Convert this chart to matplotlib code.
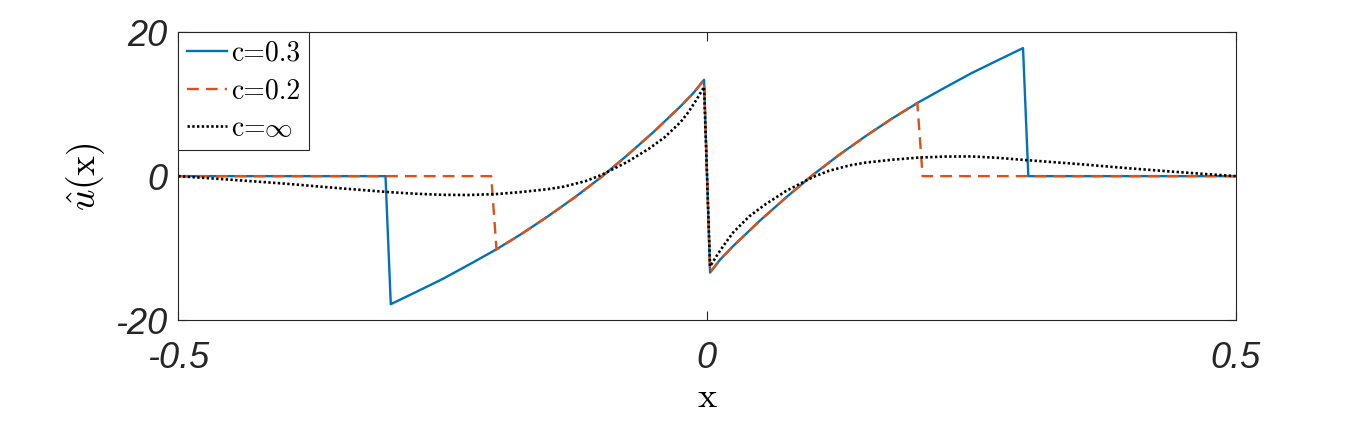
import numpy as np
import matplotlib.pyplot as plt

plt.rcParams['mathtext.fontset'] = 'cm'

# c = 0.3
x_c03 = [-0.5, -0.304, -0.299, -0.275, -0.25, -0.225, -0.2, -0.175, -0.15, -0.125,
         -0.1, -0.075, -0.05, -0.025, -0.0125, -0.0027,
         0.003, 0.0125, 0.025, 0.05, 0.075, 0.1, 0.125, 0.15, 0.175, 0.2, 0.225,
         0.25, 0.275, 0.299, 0.304, 0.5]
y_c03 = [0, 0, -17.8, -16.1, -14.3, -12.3, -10.25, -8.0, -5.55, -2.95,
         -0.15, 2.95, 6.2, 9.7, 11.6, 13.4,
         -13.4, -11.6, -9.7, -6.2, -2.95, 0.15, 2.95, 5.55, 8.0, 10.25, 12.3,
         14.3, 16.1, 17.8, 0, 0]

# c = 0.2
x_c02 = [-0.5, -0.204, -0.199, -0.175, -0.15, -0.125, -0.1, -0.075, -0.05,
         -0.025, -0.0125, -0.0027,
         0.003, 0.0125, 0.025, 0.05, 0.075, 0.1, 0.125, 0.15, 0.175, 0.199,
         0.204, 0.5]
y_c02 = [0, 0, -10.2, -8.0, -5.55, -2.95, -0.15, 2.95, 6.2,
         9.7, 11.6, 13.4,
         -13.4, -11.6, -9.7, -6.2, -2.95, 0.15, 2.95, 5.55, 8.0, 10.2,
         0, 0]

# c = inf
x_cinf = [-0.5, -0.45, -0.4, -0.35, -0.3, -0.275, -0.25, -0.225, -0.2, -0.175,
          -0.15, -0.135, -0.115, -0.1, -0.075, -0.055, -0.04, -0.025, -0.0175,
          -0.01, -0.0027,
          0.003, 0.01, 0.0175, 0.025, 0.04, 0.055, 0.075, 0.1, 0.115, 0.135,
          0.15, 0.175, 0.2, 0.225, 0.25, 0.275, 0.3, 0.35, 0.4, 0.45, 0.5]
y_cinf = [0, -0.5, -1.03, -1.65, -2.23, -2.45, -2.6, -2.62, -2.5, -2.2,
          -1.8, -1.45, -0.7, 0.15, 2.0, 3.8, 5.4, 7.5, 8.9,
          10.6, 12.4,
          -12.55, -10.9, -9.3, -7.8, -5.6, -3.95, -2.05, -0.15, 0.72, 1.5,
          1.88, 2.28, 2.58, 2.72, 2.74, 2.55, 2.25, 1.7, 1.08, 0.52, 0]

fig = plt.figure(figsize=(13.66, 4.22), dpi=100)
ax = fig.add_axes([0.1305, 0.2417, 0.7740, 0.6818])

ax.plot(x_c03, y_c03, color='#0072BD', lw=1.7, label='c=0.3')
ax.plot(x_c02, y_c02, color='#D95319', lw=1.7, dashes=(5, 3), label='c=0.2')
ax.plot(x_cinf, y_cinf, color='black', lw=1.9, dashes=(0.9, 0.9),
        label=r'c=$\infty$')

ax.set_xlim(-0.5, 0.5)
ax.set_ylim(-20, 20)
ax.set_xticks([-0.5, 0, 0.5])
ax.set_xticklabels(['-0.5', '0', '0.5'])
ax.set_yticks([-20, 0, 20])
ax.set_yticklabels(['-20', '0', '20'])
ax.tick_params(direction='in', length=6.5, width=0.8, top=True, right=True,
               labelsize=26, colors='#262626')
ax.tick_params(axis='x', pad=15)
ax.tick_params(axis='y', pad=8)
for lab in ax.get_xticklabels() + ax.get_yticklabels():
    lab.set_family('Liberation Sans')
    lab.set_style('italic')
    lab.set_color('#262626')
for sp in ax.spines.values():
    sp.set_color('#262626')
    sp.set_linewidth(0.8)

ax.set_xlabel(r'$\mathrm{x}$', fontsize=26)
ax.set_ylabel(r'$\hat{u}(\mathrm{x})$', fontsize=27)
ax.xaxis.set_label_coords(0.5, -0.21)
ax.yaxis.set_label_coords(-0.067, 0.5)

leg = ax.legend(loc='upper left', borderaxespad=0,
                prop={'family': 'cmr10', 'size': 20},
                handlelength=1.45, handletextpad=0.15, borderpad=0.3,
                labelspacing=0.4, fancybox=False, framealpha=1,
                edgecolor='#262626')
leg.get_frame().set_linewidth(0.8)

fig.savefig('out.png', dpi=100)
